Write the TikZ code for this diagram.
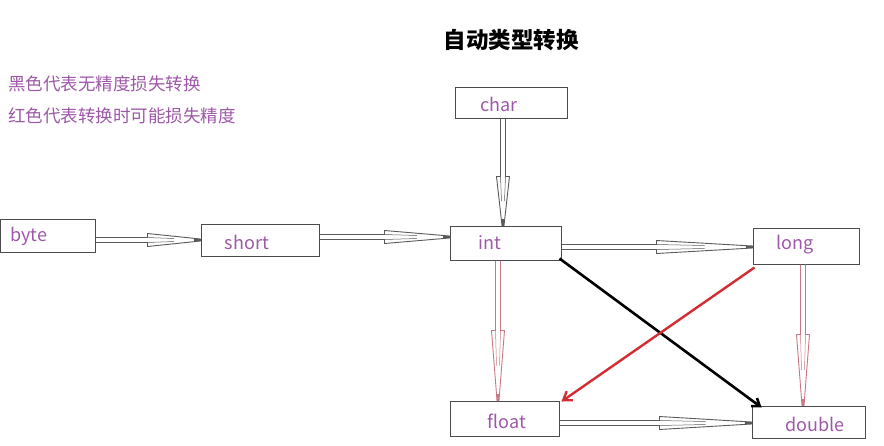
\documentclass[tikz,border=0pt]{standalone}
\usepackage{fontspec}
\setmainfont{Noto Sans CJK SC}
\newfontfamily\cjk{Noto Sans CJK SC}
\usetikzlibrary{calc,arrows.meta}
\definecolor{lbl}{RGB}{158,88,168}
\definecolor{boxc}{RGB}{75,75,75}
\definecolor{arrg}{RGB}{90,90,90}
\definecolor{arrp}{RGB}{200,120,130}
\definecolor{redl}{RGB}{210,45,50}
\newcommand\hollowarrow[4]{%
  \coordinate (hh) at ($(#3)!#4!(#2)$);
  \draw[#1, line width=0.9pt, line join=miter]
    ($(#2)!2.5pt!90:(#3)$) -- ($(hh)!2.5pt!90:(#3)$) -- ($(hh)!6.5pt!90:(#3)$)
    -- ($(#3)!1pt!-90:(#2)$) -- ($(#3)!1pt!90:(#2)$)
    -- ($(hh)!6.5pt!-90:(#3)$) -- ($(hh)!2.5pt!-90:(#3)$) -- ($(#2)!2.5pt!-90:(#3)$);
  \draw[#1, line width=0.5pt] ($(hh)!2.5pt!90:(#3)$) -- ($($(hh)!0.5!(#3)$)!1.5pt!90:(#3)$);
  \draw[#1, line width=0.5pt] ($(hh)!2.5pt!-90:(#3)$) -- ($($(hh)!0.5!(#3)$)!1.5pt!-90:(#3)$);
  \draw[#1, line width=1.4pt] ($(#3)!7pt!(#2)$) -- (#3);
}
\begin{document}
\begin{tikzpicture}[x=1pt,y=-1pt,
  box/.style={draw=boxc, line width=1pt, minimum width=#1, inner sep=0pt},
  lab/.style={text=lbl, font=\fontsize{18}{20}\selectfont, inner sep=0pt},
  legend/.style={text=lbl, font=\cjk\fontsize{17.5}{20}\selectfont, inner sep=0pt, anchor=west}]
\useasboundingbox (0,0) rectangle (884,445);
\fill[white] (0,0) rectangle (884,445);
% title and legend
\node[font=\cjk\bfseries\fontsize{22.5}{24}\selectfont, inner sep=0pt] (title) at (511,40) {自动类型转换};
\node[legend] (leg1) at (8,84) {黑色代表无精度损失转换};
\node[legend] (leg2) at (8,116) {红色代表转换时可能损失精度};
% boxes
\node[box=95pt, minimum height=33pt] (byte) at (47.5,235.5) {};
\node[box=118pt, minimum height=32pt] (short) at (260,240) {};
\node[box=111pt, minimum height=34pt] (int) at (505.5,243) {};
\node[box=112pt, minimum height=31pt] (char) at (511,102.5) {};
\node[box=106pt, minimum height=36pt] (long) at (806,246) {};
\node[box=109pt, minimum height=35pt] (float) at (504.5,418.5) {};
\node[box=113pt, minimum height=32pt] (double) at (808.5,422) {};
% labels
\node[lab] (byteT) at (29,236) {byte};
\node[lab] (shortT) at (247,242) {short};
\node[lab] (intT) at (490,243) {int};
\node[lab] (charT) at (499,104) {char};
\node[lab] (longT) at (795,245) {long};
\node[lab] (floatT) at (507,421) {float};
\node[lab] (doubleT) at (815,424) {double};
% hollow arrows
\coordinate (a1) at ([yshift=-4.5pt]byte.east);
\coordinate (b1) at (short.west);
\hollowarrow{arrg}{a1}{b1}{53pt}
\coordinate (a2) at ([yshift=3pt]short.east);
\coordinate (b2) at ([yshift=6pt]int.west);
\hollowarrow{arrg}{a2}{b2}{65pt}
\coordinate (a3) at ([xshift=-8pt]char.south);
\coordinate (b3) at ([xshift=-2.5pt]int.north);
\hollowarrow{arrg}{a3}{b3}{49pt}
\coordinate (a4) at ([yshift=-4pt]int.east);
\coordinate (b4) at ([yshift=-1pt]long.west);
\hollowarrow{arrg}{a4}{b4}{96pt}
\coordinate (a5) at ([xshift=-7.5pt]int.south);
\coordinate (b5) at ([xshift=-6.5pt]float.north);
\hollowarrow{arrp}{a5}{b5}{70pt}
\coordinate (a6) at ([xshift=-3pt]long.south);
\coordinate (b6) at ([xshift=-5.5pt]double.north);
\hollowarrow{arrp}{a6}{b6}{71pt}
\coordinate (a7) at ([yshift=-4.5pt]float.east);
\coordinate (b7) at ([yshift=-1pt]double.west);
\hollowarrow{arrg}{a7}{b7}{92pt}
% direct lines
\coordinate (c1) at ([xshift=-2pt,yshift=2pt]int.south east);
\coordinate (d1) at ([xshift=10pt,yshift=-2pt]double.north west);
\draw[black, line width=2.6pt, -{Straight Barb[length=7pt,width=10pt]}] (c1) -- (d1);
\coordinate (c2) at ([xshift=2pt,yshift=-3pt]long.south west);
\coordinate (d2) at ([xshift=2pt,yshift=-1pt]float.north east);
\draw[redl, line width=2.4pt, -{Straight Barb[length=8pt,width=11pt]}] (c2) -- (d2);
\end{tikzpicture}
\end{document}
